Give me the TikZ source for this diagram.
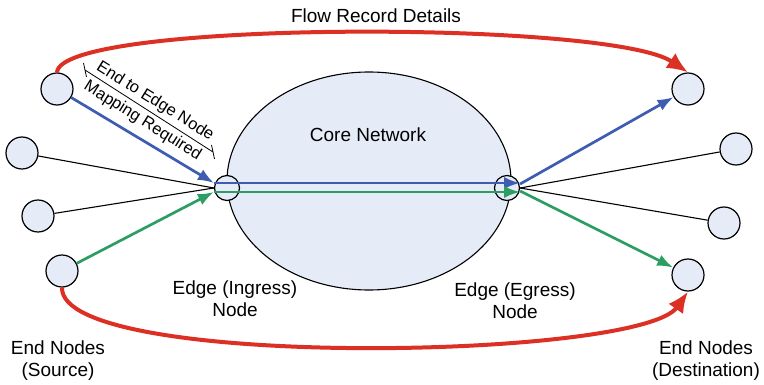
\documentclass[tikz,border=0pt]{standalone}
\usepackage{fontspec}
\setmainfont{Liberation Sans}
\usetikzlibrary{arrows.meta,shapes.geometric}
\definecolor{nodefill}{RGB}{230,236,247}
\definecolor{redc}{RGB}{221,48,36}
\definecolor{bluec}{RGB}{62,92,178}
\definecolor{greenc}{RGB}{44,158,100}
\begin{document}
\begin{tikzpicture}[x=1pt,y=-1pt,
  endnode/.style={circle,draw,line width=1.2pt,fill=nodefill,minimum size=32pt,inner sep=0pt},
  edgenode/.style={circle,draw,line width=1.2pt,fill=nodefill,minimum size=25pt,inner sep=0pt},
  lbl/.style={font=\fontsize{19}{22}\selectfont,align=center,inner sep=0pt},
  smalllbl/.style={font=\fontsize{16.5}{18}\selectfont,inner sep=0pt,rotate=-32},
  blk/.style={line width=1.1pt},
  bluearr/.style={draw=bluec,line width=2.7pt,-{Latex[length=16pt,width=12pt]}},
  greenarr/.style={draw=greenc,line width=2.7pt,-{Latex[length=16pt,width=12pt]}},
  redarr/.style={draw=redc,line width=4pt,-{Latex[length=21pt,width=18pt]}}
]
\useasboundingbox (0,0) rectangle (764,385);

% core network
\node[ellipse,draw,line width=1.1pt,fill=nodefill,minimum width=284pt,minimum height=218pt,inner sep=0pt] (core) at (369,181) {};
\node[lbl] (coretext) at (368,135) {Core Network};

% end nodes
\node[endnode] (s1) at (57,89) {};
\node[endnode] (s2) at (22,153) {};
\node[endnode] (s3) at (38,216) {};
\node[endnode] (s4) at (62,271) {};
\node[endnode] (d1) at (688,89) {};
\node[endnode] (d2) at (736,149) {};
\node[endnode] (d3) at (724,223) {};
\node[endnode] (d4) at (688,275) {};

% edge nodes
\node[edgenode] (ing) at (227,188) {};
\node[edgenode] (egr) at (507,188) {};

% black links
\draw[blk] (s2) -- (ing.west);
\draw[blk] (s3) -- (ing.west);
\draw[blk] (egr.east) -- (d2);
\draw[blk] (egr.east) -- (d3);

% blue path
\draw[bluearr] (s1) -- ([yshift=5pt]ing.west);
\draw[bluearr] ([yshift=5pt]ing.west) -- ([yshift=5pt]egr.east);
\draw[bluearr] ([yshift=4pt]egr.east) -- (d1);

% green path
\draw[greenarr] (s4) -- ([yshift=-4pt]ing.west);
\draw[greenarr] ([yshift=-4pt]ing.west) -- ([yshift=-4pt]egr.east);
\draw[greenarr] ([yshift=-3pt]egr.east) -- (d4);

% red flow record curves
\draw[redarr] (s1.north) .. controls (60,20) and (610,20) .. (d1.north);
\draw[redarr] (s4.south) .. controls (60,370) and (640,360) .. (d4.south);

% mapping label
\coordinate (sepA) at (85,70);
\coordinate (sepB) at (213,152);
\draw[line width=0.8pt] (sepA) -- (sepB);
\draw[line width=0.8pt] ([shift={(-1.5,-7)}]sepA) -- ([shift={(1.5,7)}]sepA);
\draw[line width=0.8pt] ([shift={(-1.5,-7)}]sepB) -- ([shift={(1.5,7)}]sepB);
\node[smalllbl] (map1) at (155,101.5) {End to Edge Node};
\node[smalllbl] (map2) at (142.5,121) {Mapping Required};

% labels
\node[lbl] (flow) at (376,16) {Flow Record Details};
\node[lbl] (ingtext) at (235,299) {Edge (Ingress)\\Node};
\node[lbl] (egrtext) at (515,301) {Edge (Egress)\\Node};
\node[lbl] (srctext) at (58,361) {End Nodes\\(Source)};
\node[lbl] (dsttext) at (706,361) {End Nodes\\(Destination)};
\end{tikzpicture}
\end{document}
